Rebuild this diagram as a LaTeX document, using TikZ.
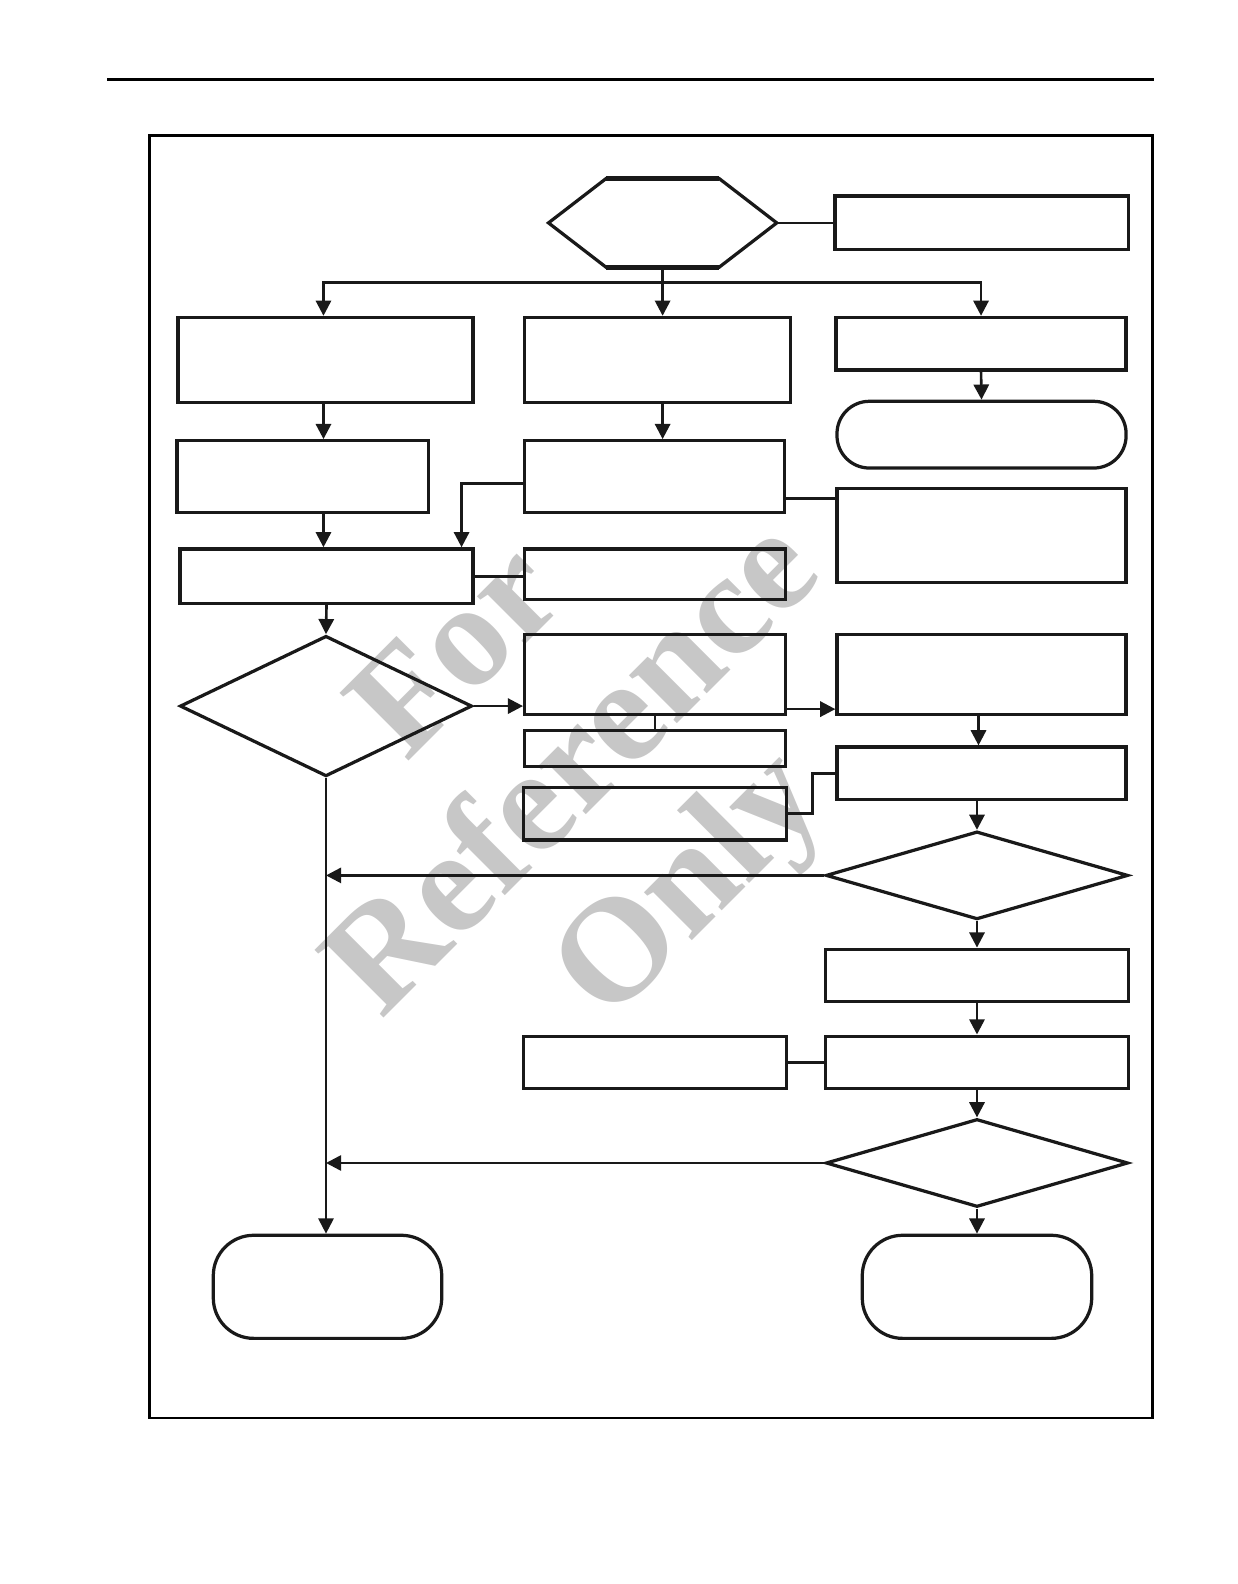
\documentclass[tikz,border=0pt]{standalone}
\usepackage{fontspec}
\usepackage{tikz}
\usetikzlibrary{calc,arrows.meta,shapes.geometric}
\newfontfamily\markfont{Liberation Serif}

\tikzset{
  box/.style={draw=black!90, line width=1.6pt, inner sep=0pt, rectangle},
  termbox/.style={box, rounded corners=#1},
  decision/.style={draw=black!90, line width=1.6pt, inner sep=0pt, diamond},
  plainline/.style={draw=black!90, line width=1.3pt},
  arrowline/.style={plainline, -{Triangle[length=7.5pt,width=7.5pt]}},
  watermark/.style={text=black!22, rotate=45, align=center,
    font=\markfont\bfseries\fontsize{73}{81}\selectfont}
}

\begin{document}
\begin{tikzpicture}[x=0.5pt, y=-0.5pt]
			%%%%% START %%%%%
			\node[watermark] (mark) at (574, 767) {For\\Reference\\Only};
			
			\draw[line width=1.5pt] (106, 79) -- (1142, 79);
			\draw[line width=1.2pt] (148, 134) rectangle (1140, 1403);
			
			% start hexagon
			\node[inner sep=0pt, minimum width=112.5pt, minimum height=43.5pt] (start) at (655.5, 220.5) {};
			\draw[line width=1.6pt, draw=black!90] ($(start.north west)+(57, 0)$) -- ($(start.north east)+(-57, 0)$) -- (start.east)
			  -- ($(start.south east)+(-57, 0)$) -- ($(start.south west)+(57, 0)$) -- (start.west) -- cycle;
			\draw[line width=2.4pt, draw=black!90] ($(start.north west)+(57, 0)$) -- ($(start.north east)+(-57, 0)$);
			\draw[line width=2.4pt, draw=black!90] ($(start.south west)+(57, 0)$) -- ($(start.south east)+(-57, 0)$);
			\node[box, minimum width=145pt, minimum height=26.5pt] (note) at (971, 220.5) {};
			
			% left column
			\node[box, minimum width=146pt, minimum height=42pt] (A1) at (322, 356) {};
			\node[box, minimum width=124.5pt, minimum height=35.5pt] (A2) at (299.5, 471.5) {};
			\node[box, minimum width=145pt, minimum height=27pt] (A3) at (323, 570) {};
			\node[decision, minimum width=144.5pt, minimum height=69.5pt] (D1) at (322.5, 698.5) {};
			\node[termbox=20pt, minimum width=113pt, minimum height=51pt] (T1) at (324, 1273) {};
			
			% middle column
			\node[box, minimum width=131.5pt, minimum height=42pt] (B1) at (650.5, 356) {};
			\node[box, minimum width=128.5pt, minimum height=35.5pt] (B2) at (647.5, 471.5) {};
			\node[box, minimum width=129pt, minimum height=25pt] (B3) at (648, 568) {};
			\node[box, minimum width=129pt, minimum height=39.5pt] (B4) at (648, 667.5) {};
			\node[box, minimum width=129pt, minimum height=17.5pt] (B5) at (648, 740.5) {};
			\node[box, minimum width=130pt, minimum height=26pt] (B6) at (648, 805) {};
			\node[box, minimum width=130pt, minimum height=26pt] (B7) at (648, 1051) {};
			
			% right column
			\node[box, minimum width=143.5pt, minimum height=26pt] (C1) at (970.5, 340) {};
			\node[termbox=16pt, minimum width=143pt, minimum height=33pt] (C2) at (971, 430) {};
			\node[box, minimum width=143pt, minimum height=46.5pt] (C3) at (971, 529.5) {};
			\node[box, minimum width=143pt, minimum height=39.5pt] (C4) at (971, 667.5) {};
			\node[box, minimum width=143pt, minimum height=26pt] (C5) at (971, 765) {};
			\node[decision, minimum width=149.5pt, minimum height=43.5pt] (D2) at (966.5, 866) {};
			\node[box, minimum width=149.5pt, minimum height=26pt] (C6) at (966.5, 965) {};
			\node[box, minimum width=149.5pt, minimum height=26pt] (C7) at (966.5, 1051) {};
			\node[decision, minimum width=149.5pt, minimum height=43.5pt] (D3) at (966.5, 1150.5) {};
			\node[termbox=20pt, minimum width=113.5pt, minimum height=51pt] (T2) at (966.5, 1273) {};
			
			% connectors
			\draw[plainline] (start.east) -- (note.west);
			\coordinate (split) at ($(start.south)+(0, 15)$);
			\draw[arrowline] (start.south) -- (split) -| ([xshift=-1pt]A1.north);
			\draw[arrowline] (split) -| (C1.north);
			\draw[arrowline] (split) -- (split |- B1.north);
			\draw[arrowline] (C1.south) -- (C2.north);
			
			\draw[arrowline] ([xshift=-1pt]A1.south) -- ([xshift=-1pt]A1.south |- A2.north);
			\draw[arrowline] ([xshift=-1pt]A1.south |- A2.south) -- ([xshift=-1pt]A1.south |- A3.north);
			\draw[arrowline] (split |- B1.south) -- (split |- B2.north);
			\draw[arrowline] ([yshift=-3.5pt]B2.west) -| ([xshift=-6.5pt]A3.north east);
			\coordinate (b2r) at ([yshift=-10.75pt]B2.east);
			\draw[plainline] (b2r) -- (b2r -| C3.west);
			\draw[plainline] (A3.east) -- (A3.east -| B3.west);
			
			\draw[arrowline] (A3.south) -- (D1.north);
			\draw[arrowline] (D1.east) -- (D1.east -| B4.west);
			\draw[arrowline] ([yshift=-1.5pt]D1.east -| B4.east) -- ([yshift=-1.5pt]D1.east -| C4.west);
			\draw[plainline] (B4.south) -- (B5.north);
			\draw[arrowline] ([xshift=-1.5pt]C4.south) -- ([xshift=-1.5pt]C5.north);
			\draw[plainline] (B6.east) -- ++(24, 0) |- (C5.west);
			\draw[arrowline] (D2.north |- C5.south) -- (D2.north);
			
			\draw[arrowline] (D2.west) -- (D2.west -| D1.south);
			\draw[arrowline] (D2.south) -- (C6.north);
			\draw[arrowline] (C6.south) -- (C7.north);
			\draw[plainline] (C7.west) -- (B7.east);
			\draw[arrowline] (C7.south) -- (D3.north);
			\draw[arrowline] (D3.west) -- (D3.west -| D1.south);
			\draw[arrowline] (D3.south) -- (T2.north);
			\draw[arrowline, line width=1pt] (D1.south) -- (D1.south |- T1.north);
			
			\pgfresetboundingbox
			\useasboundingbox (0, 0) rectangle (1224, 1567);
			%%%%% END %%%%%
\end{tikzpicture}
\end{document}
